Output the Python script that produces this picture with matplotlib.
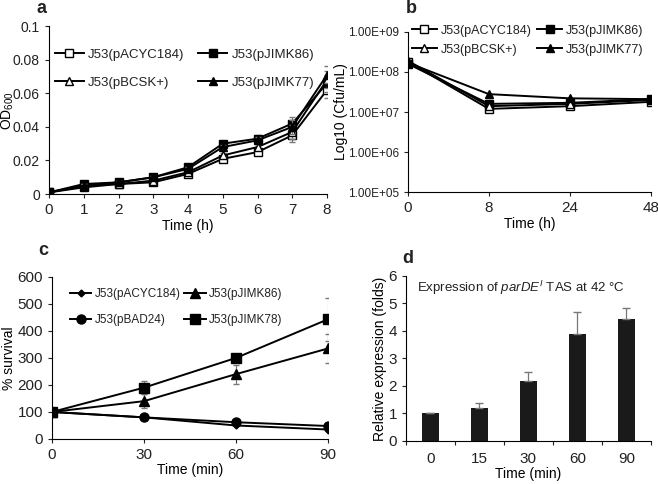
import matplotlib
matplotlib.use('Agg')
import matplotlib.pyplot as plt
import matplotlib.ticker as mticker
import numpy as np

plt.rcParams['font.family'] = ['Liberation Sans', 'DejaVu Sans']
plt.rcParams['mathtext.fontset'] = 'custom'
plt.rcParams['mathtext.rm'] = 'Liberation Sans'
plt.rcParams['mathtext.it'] = 'Liberation Sans:italic'
plt.rcParams['font.size'] = 10
plt.rcParams['text.color'] = '#222222'
plt.rcParams['xtick.color'] = '#222222'
plt.rcParams['ytick.color'] = '#222222'

# panel a: growth (OD600)
time_a = [0, 1, 2, 3, 4, 5, 6, 7, 8]
od_pacyc184 = [0.001, 0.004, 0.006, 0.007, 0.012, 0.021, 0.025, 0.035, 0.062]
od_pjimk86 = [0.001, 0.006, 0.007, 0.010, 0.016, 0.030, 0.033, 0.042, 0.066]
od_pbcsk = [0.001, 0.005, 0.006, 0.008, 0.013, 0.023, 0.028, 0.037, 0.068]
od_pjimk77 = [0.001, 0.005, 0.007, 0.010, 0.015, 0.028, 0.032, 0.040, 0.071]
od_err = [0.0005, 0.0008, 0.0008, 0.001, 0.001, 0.0015, 0.002, 0.004, 0.005]

# panel b: survival counts
time_b_labels = ['0', '8', '24', '48']
cfu_pacyc184 = [1.8e8, 1.2e7, 1.4e7, 1.8e7]
cfu_pjimk86 = [1.6e8, 1.6e7, 1.7e7, 2.1e7]
cfu_pbcsk = [1.9e8, 1.4e7, 1.6e7, 2.0e7]
cfu_pjimk77 = [1.7e8, 2.8e7, 2.2e7, 2.1e7]

# panel c: % survival
time_c = [0, 30, 60, 90]
surv_pacyc184 = [100, 80, 50, 35]
surv_pjimk86 = [100, 140, 240, 335]
surv_pbad24 = [100, 80, 62, 48]
surv_pjimk78 = [100, 190, 300, 443]
err_pjimk86 = [0, 25, 35, 55]
err_pjimk78 = [0, 25, 15, 80]

# panel d: relative expression
time_d = ['0', '15', '30', '60', '90']
expr = [1.0, 1.2, 2.18, 3.88, 4.45]
expr_err = [0.02, 0.18, 0.33, 0.8, 0.38]

fig = plt.figure(figsize=(6.58, 4.84), dpi=100)
ax_a = fig.add_axes([0.0745, 0.599, 0.4225, 0.347])
ax_b = fig.add_axes([0.620, 0.603, 0.369, 0.331])
ax_c = fig.add_axes([0.079, 0.093, 0.4195, 0.335])
ax_d = fig.add_axes([0.617, 0.089, 0.372, 0.341])

for ax in (ax_a, ax_b, ax_c, ax_d):
    ax.spines['top'].set_visible(False)
    ax.spines['right'].set_visible(False)
    ax.tick_params(direction='out', length=3, labelsize=11)

lw = 1.4
ms = 5.5
ecol = '#777777'

# ---- a
series_a = [(od_pacyc184, 's', 'white', 'J53(pACYC184)'),
            (od_pjimk86, 's', 'black', 'J53(pJIMK86)'),
            (od_pbcsk, '^', 'white', 'J53(pBCSK+)'),
            (od_pjimk77, '^', 'black', 'J53(pJIMK77)')]
lines_a = {}
for vals, mk, fc, lab in series_a:
    ax_a.errorbar(time_a, vals, yerr=od_err, fmt='none', ecolor=ecol, elinewidth=0.8, capsize=2)
    lines_a[lab], = ax_a.plot(time_a, vals, color='black', lw=lw, marker=mk, ms=ms,
                              mfc=fc, mec='black', label=lab)
ax_a.set_xlim(0, 8)
ax_a.set_ylim(0, 0.1)
ax_a.set_yticks([0, 0.02, 0.04, 0.06, 0.08, 0.1])
ax_a.set_yticklabels(['0', '0.02', '0.04', '0.06', '0.08', '0.1'])
ax_a.tick_params(axis='y', labelsize=10)
ax_a.set_xticks(time_a)
ax_a.set_xlabel('Time (h)', labelpad=1)
ax_a.set_ylabel('OD$_{600}$')
ax_a.yaxis.set_label_coords(-0.12, 0.5)
order_a = ['J53(pACYC184)', 'J53(pBCSK+)', 'J53(pJIMK86)', 'J53(pJIMK77)']
ax_a.legend([lines_a[k] for k in order_a], order_a, ncol=2, frameon=False,
            loc='upper left', bbox_to_anchor=(0.02, 0.865), borderaxespad=0, borderpad=0,
            handlelength=2.2, columnspacing=1.1, handletextpad=0.3, labelspacing=1.2,
            fontsize=9.5)

# ---- b
xb = np.arange(len(time_b_labels))
series_b = [(cfu_pacyc184, 's', 'white', 'J53(pACYC184)'),
            (cfu_pjimk86, 's', 'black', 'J53(pJIMK86)'),
            (cfu_pbcsk, '^', 'white', 'J53(pBCSK+)'),
            (cfu_pjimk77, '^', 'black', 'J53(pJIMK77)')]
lines_b = {}
for vals, mk, fc, lab in series_b:
    lines_b[lab], = ax_b.plot(xb, vals, color='black', lw=lw, marker=mk, ms=ms,
                              mfc=fc, mec='black', label=lab)
ax_b.set_yscale('log')
ax_b.set_ylim(1e5, 1e9)
ax_b.set_yticks([1e5, 1e6, 1e7, 1e8, 1e9])
ax_b.yaxis.set_major_formatter(mticker.FuncFormatter(lambda v, p: '%.2E' % v))
ax_b.yaxis.set_minor_locator(mticker.NullLocator())
ax_b.tick_params(axis='y', labelsize=8.5)
ax_b.set_xlim(0, 3)
ax_b.set_xticks(xb)
ax_b.set_xticklabels(time_b_labels)
ax_b.set_xlabel('Time (h)', labelpad=1)
ax_b.set_ylabel('Log10 (Cfu/mL)', labelpad=0)
order_b = ['J53(pACYC184)', 'J53(pBCSK+)', 'J53(pJIMK86)', 'J53(pJIMK77)']
ax_b.legend([lines_b[k] for k in order_b], order_b, ncol=2, frameon=False,
            loc='upper left', bbox_to_anchor=(0.015, 1.045), borderaxespad=0, borderpad=0,
            handlelength=2.0, columnspacing=0.5, handletextpad=0.3, labelspacing=0.55,
            fontsize=9)

# ---- c
l1, = ax_c.plot(time_c, surv_pacyc184, color='black', lw=lw, marker='D', ms=3.5)
ax_c.errorbar(time_c, surv_pjimk86, yerr=err_pjimk86, fmt='none', ecolor=ecol,
              elinewidth=0.8, capsize=2)
l2, = ax_c.plot(time_c, surv_pjimk86, color='black', lw=lw, marker='^', ms=ms + 1)
l3, = ax_c.plot(time_c, surv_pbad24, color='black', lw=lw, marker='o', ms=ms + 1)
ax_c.errorbar(time_c, surv_pjimk78, yerr=err_pjimk78, fmt='none', ecolor=ecol,
              elinewidth=0.8, capsize=2)
l4, = ax_c.plot(time_c, surv_pjimk78, color='black', lw=lw, marker='s', ms=ms + 1)
ax_c.set_xlim(0, 90)
ax_c.set_ylim(0, 600)
ax_c.set_xticks(time_c)
ax_c.set_yticks(range(0, 601, 100))
ax_c.set_xlabel('Time (min)', labelpad=1)
ax_c.set_ylabel('% survival', labelpad=1)
ax_c.legend([l1, l3, l2, l4], ['J53(pACYC184)', 'J53(pBAD24)', 'J53(pJIMK86)', 'J53(pJIMK78)'],
            ncol=2, frameon=False, loc='upper left', bbox_to_anchor=(0.065, 0.93),
            borderaxespad=0, borderpad=0, handlelength=1.8, columnspacing=0.3,
            handletextpad=0.3, labelspacing=1.2, fontsize=8.5)

# ---- d
xd = np.arange(len(time_d))
ax_d.bar(xd, expr, width=0.34, color='#1a1a1a')
ax_d.errorbar(xd, expr, yerr=[np.zeros(len(expr)), expr_err], fmt='none', ecolor=ecol,
              elinewidth=0.9, capsize=3)
ax_d.set_xlim(-0.5, 4.5)
ax_d.set_ylim(0, 6)
ax_d.set_xticks(np.arange(-0.5, 5, 1))
ax_d.set_xticklabels([])
ax_d.set_xticks(xd, minor=True)
ax_d.set_xticklabels(time_d, minor=True)
ax_d.tick_params(axis='x', which='minor', length=0, pad=8, labelsize=11)
ax_d.set_yticks(range(0, 7))
ax_d.set_xlabel('Time (min)', labelpad=1)
ax_d.set_ylabel('Relative expression (folds)', labelpad=1)
ax_d.text(0.045, 0.93, 'Expression of $\\mathit{parDE}^{\\mathit{I}}$ TAS at 42 \u00b0C',
          transform=ax_d.transAxes, fontsize=9.5, va='center')

# panel letters
fig.text(0.056, 0.983, 'a', fontsize=13, fontweight='bold', va='center')
fig.text(0.617, 0.983, 'b', fontsize=13, fontweight='bold', va='center')
fig.text(0.058, 0.483, 'c', fontsize=13, fontweight='bold', va='center')
fig.text(0.612, 0.465, 'd', fontsize=13, fontweight='bold', va='center')

fig.savefig('out.png', dpi=100)
